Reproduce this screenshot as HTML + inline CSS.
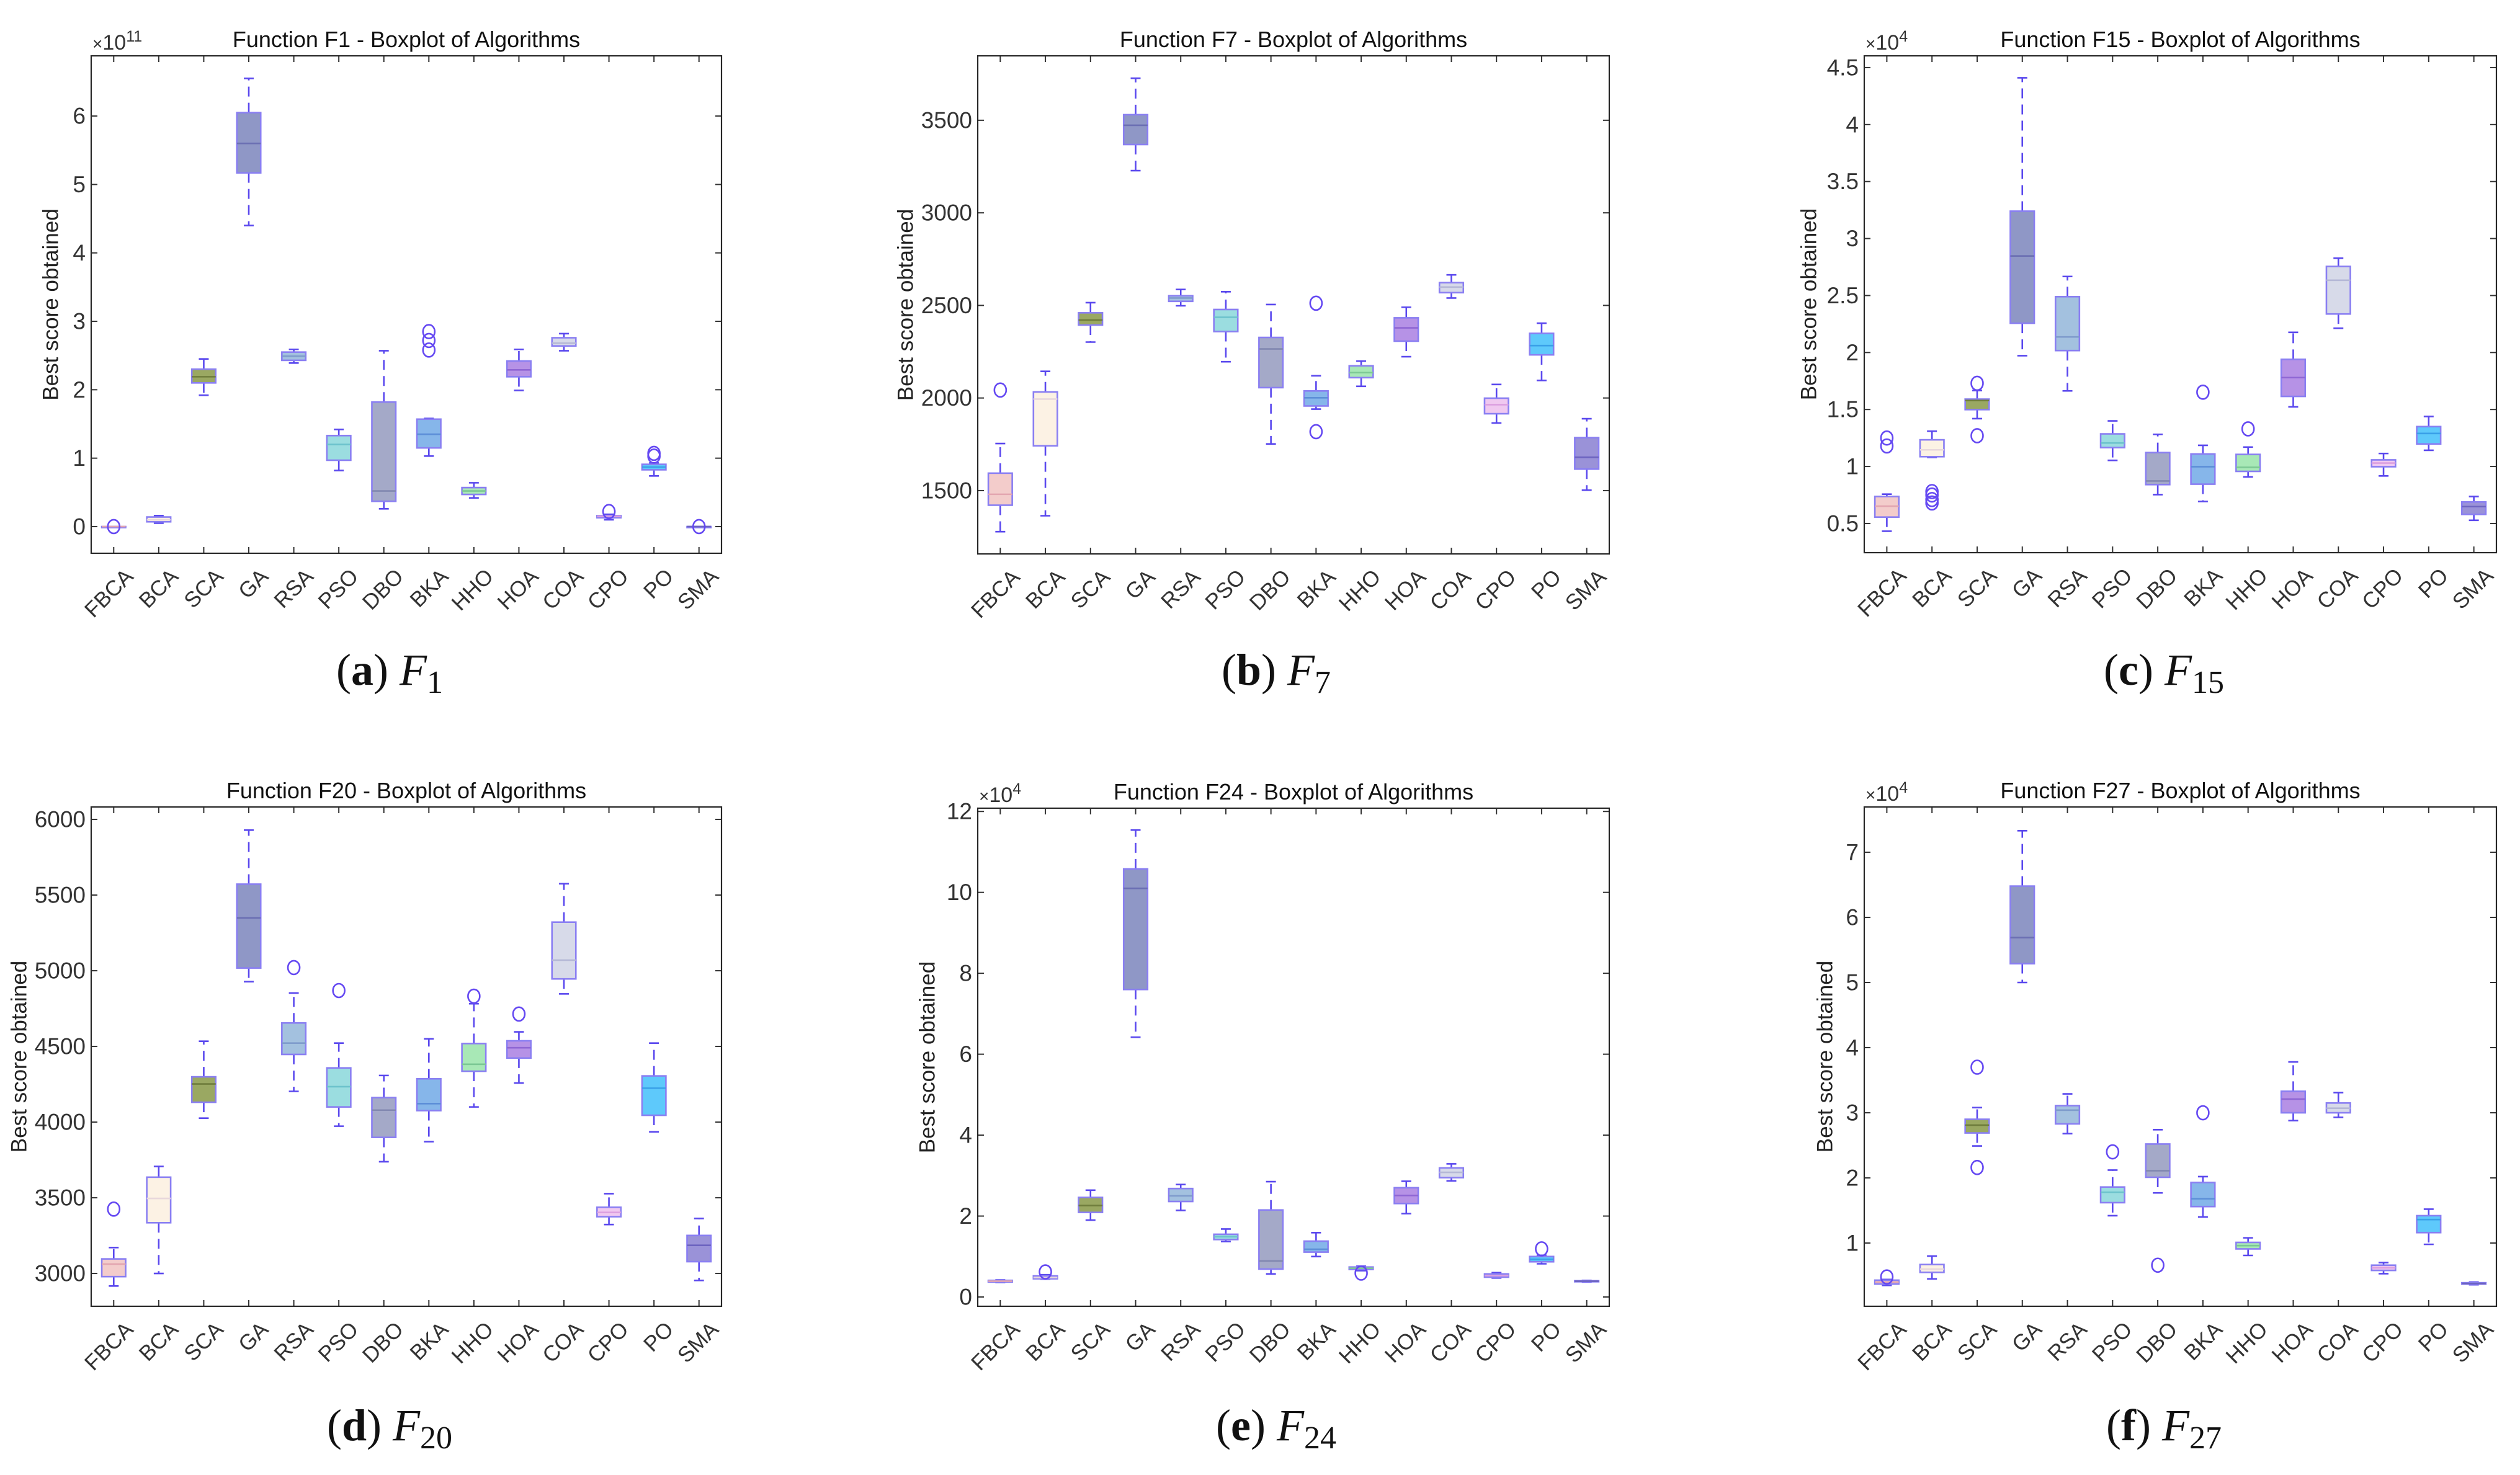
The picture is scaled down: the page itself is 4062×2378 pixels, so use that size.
<!DOCTYPE html>
<html><head><meta charset="utf-8">
<style>
html,body{margin:0;padding:0;background:#fff;}
svg{display:block;}
text{font-family:"Liberation Sans",Arial,sans-serif;}
.cap{font-family:"Liberation Serif","Times New Roman",serif;}
</style></head>
<body>
<svg id="fig" width="4062" height="2378" viewBox="0 0 4062 2378" xmlns="http://www.w3.org/2000/svg"></svg>
<script>
// ---------- data ----------
const categories = ["FBCA","BCA","SCA","GA","RSA","PSO","DBO","BKA","HHO","HOA","COA","CPO","PO","SMA"];

// F1 (x1e11)
const f1_lo  = [0,0.05,1.92,4.4,2.39,0.82,0.26,1.03,0.42,1.99,2.57,0.10,0.74,0];
const f1_q1  = [0,0.07,2.10,5.17,2.43,0.97,0.37,1.15,0.47,2.19,2.64,0.13,0.83,0];
const f1_med = [0,0.10,2.19,5.60,2.49,1.20,0.52,1.35,0.52,2.29,2.68,0.15,0.87,0];
const f1_q3  = [0,0.14,2.30,6.05,2.55,1.33,1.82,1.57,0.57,2.42,2.76,0.16,0.91,0];
const f1_hi  = [0,0.16,2.45,6.55,2.59,1.42,2.57,1.58,0.64,2.59,2.82,0.18,0.93,0];
const f1_out = [[0],[],[],[],[],[],[],[2.58,2.72,2.85],[],[],[],[0.22],[1.03,1.07],[0]];

// F7
const f7_lo  = [1278,1364,2302,3228,2498,2196,1752,1940,2063,2223,2540,1865,2095,1502];
const f7_q1  = [1421,1742,2394,3369,2522,2359,2056,1957,2110,2307,2569,1915,2233,1616];
const f7_med = [1480,1994,2421,3473,2540,2436,2265,2001,2137,2379,2599,1964,2283,1680];
const f7_q3  = [1594,2033,2460,3530,2552,2478,2327,2038,2174,2433,2623,1999,2349,1786];
const f7_hi  = [1754,2144,2515,3727,2586,2574,2505,2120,2199,2490,2665,2073,2404,1888];
const f7_out = [[2043],[],[],[],[],[],[],[2512,1818],[],[],[],[],[],[]];

// F15 (x1e4)
const f15_lo  = [0.432,1.08,1.42,1.972,1.663,1.054,0.753,0.693,0.909,1.523,2.213,0.917,1.142,0.528];
const f15_q1  = [0.556,1.086,1.499,2.257,2.017,1.166,0.841,0.845,0.957,1.615,2.338,0.998,1.198,0.580];
const f15_med = [0.652,1.146,1.579,2.847,2.137,1.206,0.873,0.998,0.993,1.780,2.634,1.030,1.290,0.648];
const f15_q3  = [0.737,1.234,1.591,3.240,2.490,1.286,1.122,1.110,1.106,1.940,2.755,1.058,1.350,0.689];
const f15_hi  = [0.757,1.310,1.667,4.410,2.667,1.400,1.282,1.186,1.170,2.177,2.827,1.114,1.439,0.737];
const f15_out = [[1.25,1.18],[0.78,0.75,0.71,0.68],[1.73,1.27],[],[],[],[],[1.652],[1.33],[],[],[],[],[]];

// F20
const f20_lo  = [2917,3000,4026,4928,4203,3973,3738,3871,4100,4258,4847,3323,3936,2954];
const f20_q1  = [2979,3335,4131,5018,4447,4100,3899,4076,4336,4423,4946,3375,4045,3078];
const f20_med = [3062,3496,4252,5349,4522,4234,4079,4122,4382,4491,5070,3403,4224,3186];
const f20_q3  = [3096,3636,4299,5572,4655,4358,4162,4286,4519,4537,5321,3437,4305,3251];
const f20_hi  = [3171,3707,4534,5929,4853,4522,4308,4550,4782,4596,5575,3527,4522,3363];
const f20_out = [[3425],[],[],[],[5021],[4869],[],[],[4832],[4714],[],[],[],[]];

// F24 (x1e4)
const f24_lo  = [0.36,0.44,1.90,6.42,2.14,1.37,0.57,1.00,0.65,2.06,2.87,0.47,0.82,0.37];
const f24_q1  = [0.37,0.45,2.09,7.60,2.36,1.42,0.69,1.11,0.68,2.31,2.95,0.49,0.87,0.38];
const f24_med = [0.39,0.48,2.26,10.10,2.50,1.49,0.89,1.18,0.71,2.51,3.08,0.53,0.93,0.39];
const f24_q3  = [0.41,0.52,2.46,10.58,2.68,1.55,2.15,1.38,0.74,2.70,3.19,0.57,1.00,0.40];
const f24_hi  = [0.42,0.55,2.64,11.54,2.78,1.68,2.85,1.59,0.76,2.86,3.29,0.60,1.03,0.41];
const f24_out = [[],[0.62],[],[],[],[],[],[],[0.59],[],[],[],[1.19],[]];

// F27 (x1e4)
const f27_lo  = [0.35,0.45,2.49,5.00,2.68,1.42,1.77,1.40,0.81,2.88,2.93,0.53,0.98,0.36];
const f27_q1  = [0.37,0.55,2.69,5.29,2.83,1.62,2.01,1.56,0.91,3.00,3.00,0.58,1.16,0.37];
const f27_med = [0.40,0.60,2.81,5.69,3.04,1.78,2.11,1.68,0.96,3.21,3.07,0.62,1.36,0.38];
const f27_q3  = [0.43,0.67,2.90,6.48,3.11,1.86,2.52,1.93,1.01,3.33,3.15,0.66,1.42,0.39];
const f27_hi  = [0.44,0.80,3.08,7.33,3.29,2.12,2.74,2.02,1.08,3.78,3.31,0.70,1.52,0.40];
const f27_out = [[0.48],[],[3.70,2.16],[],[],[2.40],[0.66],[3.00],[],[],[],[],[],[]];

// tick values
const f1_ticks  = [0,1,2,3,4,5,6];
const f7_ticks  = [1500,2000,2500,3000,3500];
const f15_ticks = [0.5,1,1.5,2,2.5,3,3.5,4,4.5];
const f20_ticks = [3000,3500,4000,4500,5000,5500,6000];
const f24_ticks = [0,2,4,6,8,10,12];
const f27_ticks = [1,2,3,4,5,6,7];

// ---------- styles ----------
const fills = ["#f3cccb","#fcf2e4","#9aa862","#8f97c6","#a3c1df","#9bdde0","#a4a9c8","#86b6ea","#a8e8b6","#b692e6","#d7dae9","#f0c8f0","#5ec9fb","#9a92d8"];
const meds  = ["#e3a6b0","#e8d8dc","#6f7d3c","#6b6fb3","#7f9ccc","#6cc2cc","#8288b0","#5d8fd8","#7cc894","#8f66d4","#b5b8d6","#dca0e0","#3aa0e8","#6d64c0"];

const panels = [
  {id:"f1", title:"Function F1 - Boxplot of Algorithms", L:147,R:1163,T:90,B:892, ymin:-0.39,ymax:6.88, ticks:f1_ticks, exp:"11",
   lo:f1_lo,q1:f1_q1,med:f1_med,q3:f1_q3,hi:f1_hi,out:f1_out, ylx:82, cap:["a","1"], capx:628, capy:1104},
  {id:"f7", title:"Function F7 - Boxplot of Algorithms", L:1576,R:2594,T:90,B:893, ymin:1158,ymax:3848, ticks:f7_ticks, exp:null,
   lo:f7_lo,q1:f7_q1,med:f7_med,q3:f7_q3,hi:f7_hi,out:f7_out, ylx:1460, cap:["b","7"], capx:2057, capy:1104},
  {id:"f15", title:"Function F15 - Boxplot of Algorithms", L:3005,R:4024,T:90,B:891, ymin:0.244,ymax:4.603, ticks:f15_ticks, exp:"4",
   lo:f15_lo,q1:f15_q1,med:f15_med,q3:f15_q3,hi:f15_hi,out:f15_out, ylx:2916, cap:["c","15"], capx:3488, capy:1104},
  {id:"f20", title:"Function F20 - Boxplot of Algorithms", L:147,R:1163,T:1301,B:2106, ymin:2783,ymax:6082, ticks:f20_ticks, exp:null,
   lo:f20_lo,q1:f20_q1,med:f20_med,q3:f20_q3,hi:f20_hi,out:f20_out, ylx:31, cap:["d","20"], capx:628, capy:2322},
  {id:"f24", title:"Function F24 - Boxplot of Algorithms", L:1576,R:2594,T:1303,B:2106, ymin:-0.23,ymax:12.08, ticks:f24_ticks, exp:"4",
   lo:f24_lo,q1:f24_q1,med:f24_med,q3:f24_q3,hi:f24_hi,out:f24_out, ylx:1495, cap:["e","24"], capx:2057, capy:2322},
  {id:"f27", title:"Function F27 - Boxplot of Algorithms", L:3005,R:4024,T:1301,B:2106, ymin:0.029,ymax:7.695, ticks:f27_ticks, exp:"4",
   lo:f27_lo,q1:f27_q1,med:f27_med,q3:f27_q3,hi:f27_hi,out:f27_out, ylx:2942, cap:["f","27"], capx:3488, capy:2322}
];

const NS = "http://www.w3.org/2000/svg";
const svg = document.getElementById("fig");
function mk(tag, attrs, parent){
  const e = document.createElementNS(NS, tag);
  for (const k in attrs) e.setAttribute(k, attrs[k]);
  (parent||svg).appendChild(e);
  return e;
}

panels.forEach(p => {
  const g = mk("g", {});
  
  
  const n = categories.length;
  const sp = (p.R - p.L) / n;
  const xs = i => p.L + (i + 0.5) * sp;
  const ys = v => p.B - (v - p.ymin) / (p.ymax - p.ymin) * (p.B - p.T);
  const bw = sp * 0.53, cw = sp * 0.22;
  const midY = (p.T + p.B) / 2;

  const t = mk("text", {x:(p.L+p.R)/2, y:p.T-14, "text-anchor":"middle", "font-size":36, fill:"#111"}, g);
  t.textContent = p.title;
  
  

  if (p.exp){
    const ex = mk("text", {x:p.L+2, y:p.T-10, "font-size":34, fill:"#333"}, g);
    
    
    const a = mk("tspan", {"font-size":28}, ex); a.textContent = "\u00d7";
    const b = mk("tspan", {}, ex); b.textContent = "10";
    const c = mk("tspan", {dy:-13, "font-size":25}, ex); c.textContent = p.exp;
  }

  const yl = mk("text", {x:p.ylx, y:midY, "text-anchor":"middle", "font-size":35, fill:"#222",
    transform:`rotate(-90 ${p.ylx} ${midY})`, "dominant-baseline":"central"}, g);
  yl.textContent = "Best score obtained";
  
  

  p.ticks.forEach(v => {
    const y = ys(v);
    mk("line", {x1:p.L, x2:p.L+10, y1:y, y2:y, stroke:"#333", "stroke-width":2}, g);
    mk("line", {x1:p.R, x2:p.R-10, y1:y, y2:y, stroke:"#333", "stroke-width":2}, g);
    const tl = mk("text", {x:p.L-9, y:y, "text-anchor":"end", "dominant-baseline":"central", "font-size":37, fill:"#333"}, g);
    tl.textContent = String(v);
    
    
  });

  categories.forEach((c, i) => {
    const x = xs(i);
    mk("line", {x1:x, x2:x, y1:p.B, y2:p.B-10, stroke:"#333", "stroke-width":2}, g);
    mk("line", {x1:x, x2:x, y1:p.T, y2:p.T+10, stroke:"#333", "stroke-width":2}, g);
    const lx = x + 16, ly = p.B + 22;
    const tl = mk("text", {x:lx, y:ly, "text-anchor":"end", "dominant-baseline":"hanging", "font-size":35, fill:"#333",
      transform:`rotate(-45 ${lx} ${ly})`}, g);
    tl.textContent = c;
    
    
  });

  categories.forEach((c, i) => {
    const x = xs(i);
    const bg = mk("g", {}, g);
    
    
    const ylo = ys(p.lo[i]), yq1 = ys(p.q1[i]), ymd = ys(p.med[i]), yq3 = ys(p.q3[i]), yhi = ys(p.hi[i]);
    mk("line", {x1:x, x2:x, y1:yq3, y2:yhi, stroke:"#5a48ee", "stroke-width":2.6, "stroke-dasharray":"16 10"}, bg);
    mk("line", {x1:x, x2:x, y1:yq1, y2:ylo, stroke:"#5a48ee", "stroke-width":2.6, "stroke-dasharray":"16 10"}, bg);
    mk("line", {x1:x-cw/2, x2:x+cw/2, y1:yhi, y2:yhi, stroke:"#5a48ee", "stroke-width":2.6}, bg);
    mk("line", {x1:x-cw/2, x2:x+cw/2, y1:ylo, y2:ylo, stroke:"#5a48ee", "stroke-width":2.6}, bg);
    mk("rect", {x:x-bw/2, y:yq3, width:bw, height:Math.max(1.5, yq1-yq3), fill:fills[i], stroke:"#8a7ff2", "stroke-width":2.6}, bg);
    mk("line", {x1:x-bw/2, x2:x+bw/2, y1:ymd, y2:ymd, stroke:meds[i], "stroke-width":2.6}, bg);
    p.out[i].forEach(v => {
      const o = mk("ellipse", {cx:x, cy:ys(v), rx:9.5, ry:11, fill:"none", stroke:"#6448f2", "stroke-width":2.6}, bg);
      
      
    });
  });

  const fr = mk("rect", {x:p.L, y:p.T, width:p.R-p.L, height:p.B-p.T, fill:"none", stroke:"#262626", "stroke-width":2.2}, g);
  
  

  const cp = mk("text", {x:p.capx, y:p.capy, "text-anchor":"middle", "font-size":72, fill:"#111", class:"cap"}, g);
  
  
  const s1 = mk("tspan", {}, cp); s1.textContent = "(";
  const s2 = mk("tspan", {"font-weight":"bold"}, cp); s2.textContent = p.cap[0];
  const s3 = mk("tspan", {}, cp); s3.textContent = ") ";
  const s4 = mk("tspan", {"font-style":"italic"}, cp); s4.textContent = "F";
  const s5 = mk("tspan", {dy:13, "font-size":52}, cp); s5.textContent = p.cap[1];
});
</script>
</body></html>
